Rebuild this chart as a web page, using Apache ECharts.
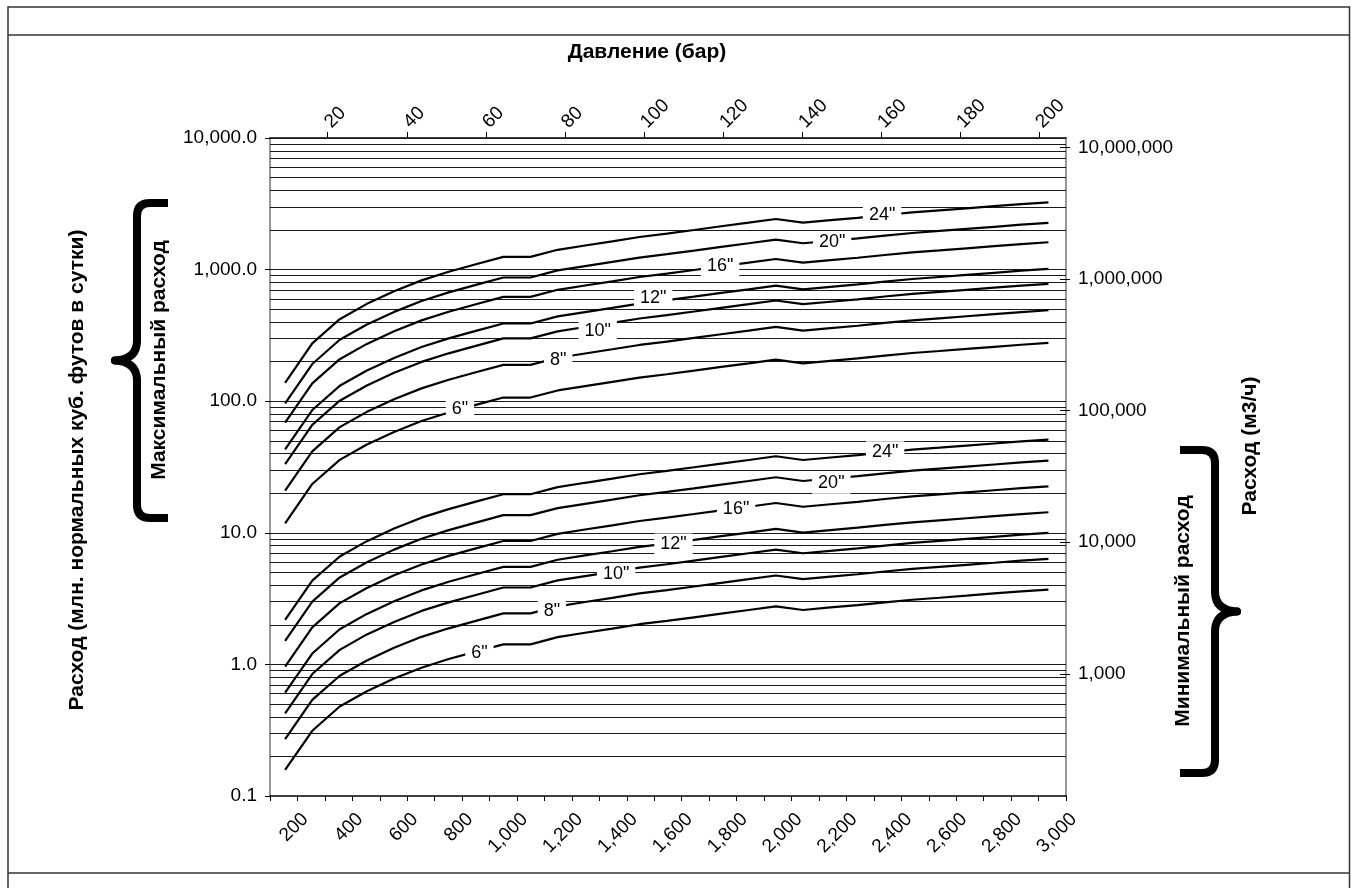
<!DOCTYPE html>
<html>
<head>
<meta charset="utf-8">
<script src="https://cdn.jsdelivr.net/npm/echarts@6/dist/echarts.min.js"></script>
<style>
html,body{margin:0;padding:0;background:#fff;}
#chart{width:1351px;height:888px;}
</style>
</head>
<body>
<div id="chart"></div>
<script>
// ---- data ----
const pressurePsi = [155, 254, 354, 453, 552, 652, 751, 850, 950, 1049, 1148, 1248, 1347, 1446, 1546, 1645, 1744, 1844, 1943, 2042, 2142, 2241, 2340, 2440, 2539, 2638, 2738, 2837, 2936];

const sizeNames = ['24"', '20"', '16"', '12"', '10"', '8"', '6"'];

// maximum flow, million std cubic feet per day
const max24 = [138, 275, 420, 549, 684, 828, 962, 1097, 1249, 1249, 1414, 1524, 1640, 1769, 1877, 2000, 2134, 2272, 2424, 2272, 2373, 2475, 2600, 2721, 2818, 2923, 3032, 3145, 3246];
const max20 = [96.4, 191.7, 292.9, 382.8, 477.2, 577.4, 671.0, 765.1, 871.0, 871.0, 986.2, 1063, 1144, 1234, 1309, 1395, 1488, 1585, 1691, 1585, 1655, 1727, 1813, 1898, 1966, 2039, 2115, 2194, 2264];
const max16 = [68.7, 136.5, 208.6, 272.6, 339.8, 411.2, 477.9, 544.9, 620.3, 620.3, 702.3, 757.2, 814.9, 878.7, 932.3, 993.4, 1060, 1129, 1204, 1129, 1179, 1230, 1291, 1352, 1400, 1452, 1506, 1562, 1613];
const max12 = [43.1, 85.7, 130.9, 171.2, 213.3, 258.2, 300.0, 342.1, 389.4, 389.4, 440.9, 475.4, 511.6, 551.7, 585.3, 623.7, 665.5, 708.6, 756.0, 708.6, 740.0, 771.9, 810.7, 848.6, 878.8, 911.6, 945.6, 981.0, 1012];
const max10 = [33.2, 66.0, 100.9, 131.8, 164.3, 198.9, 231.1, 263.5, 300.0, 300.0, 339.6, 366.2, 394.1, 425.0, 450.9, 480.4, 512.6, 545.8, 582.3, 545.8, 570.0, 594.6, 624.5, 653.7, 677.0, 702.2, 728.4, 755.6, 779.9];
const max8 = [20.9, 41.6, 63.5, 83.0, 103.5, 125.2, 145.5, 165.9, 188.8, 188.8, 213.8, 230.5, 248.1, 267.5, 283.8, 302.4, 322.7, 343.6, 366.6, 343.6, 358.9, 374.3, 393.1, 411.5, 426.2, 442.0, 458.5, 475.7, 490.9];
const max6 = [11.8, 23.5, 35.8, 46.9, 58.4, 70.7, 82.1, 93.7, 106.6, 106.6, 120.7, 130.2, 140.1, 151.0, 160.2, 170.7, 182.2, 194.0, 207.0, 194.0, 202.6, 211.3, 222.0, 232.3, 240.6, 249.6, 258.9, 268.6, 277.2];

// minimum flow
const min24 = [2.18, 4.33, 6.61, 8.64, 10.77, 13.03, 15.14, 17.26, 19.65, 19.65, 22.25, 23.99, 25.82, 27.84, 29.54, 31.47, 33.58, 35.76, 38.15, 35.76, 37.34, 38.95, 40.91, 42.83, 44.35, 46.00, 47.72, 49.50, 51.09];
const min20 = [1.51, 3.00, 4.58, 5.98, 7.45, 9.02, 10.48, 11.95, 13.61, 13.61, 15.41, 16.61, 17.88, 19.28, 20.45, 21.79, 23.25, 24.76, 26.42, 24.76, 25.86, 26.97, 28.33, 29.65, 30.71, 31.85, 33.04, 34.28, 35.38];
const min16 = [0.960, 1.91, 2.92, 3.81, 4.75, 5.75, 6.68, 7.62, 8.67, 8.67, 9.82, 10.59, 11.40, 12.29, 13.04, 13.89, 14.82, 15.78, 16.84, 15.78, 16.48, 17.19, 18.06, 18.90, 19.57, 20.30, 21.06, 21.85, 22.55];
const min12 = [0.610, 1.21, 1.85, 2.42, 3.02, 3.65, 4.25, 4.84, 5.51, 5.51, 6.24, 6.73, 7.24, 7.81, 8.28, 8.83, 9.42, 10.03, 10.70, 10.03, 10.47, 10.93, 11.47, 12.01, 12.44, 12.90, 13.38, 13.88, 14.33];
const min10 = [0.425, 0.845, 1.29, 1.69, 2.10, 2.55, 2.96, 3.37, 3.84, 3.84, 4.35, 4.69, 5.04, 5.44, 5.77, 6.15, 6.56, 6.99, 7.45, 6.99, 7.30, 7.61, 7.99, 8.37, 8.67, 8.99, 9.32, 9.67, 9.98];
const min8 = [0.270, 0.537, 0.820, 1.07, 1.34, 1.62, 1.88, 2.14, 2.44, 2.44, 2.76, 2.98, 3.20, 3.46, 3.67, 3.91, 4.17, 4.44, 4.74, 4.44, 4.64, 4.84, 5.08, 5.32, 5.51, 5.71, 5.92, 6.15, 6.34];
const min6 = [0.158, 0.313, 0.479, 0.626, 0.780, 0.944, 1.10, 1.25, 1.42, 1.42, 1.61, 1.74, 1.87, 2.02, 2.14, 2.28, 2.43, 2.59, 2.76, 2.59, 2.71, 2.82, 2.96, 3.10, 3.21, 3.33, 3.46, 3.59, 3.70];

// where the size labels sit on the curves (pressure psi, flow)
const maxLabelX = [2330, 2148, 1740, 1496, 1294, 1150, 792];
const maxLabelY = [2599, 1629, 1065, 603, 343, 205.6, 86.5];
const minLabelX = [2341, 2145, 1798, 1570, 1361, 1127, 863];
const minLabelY = [41.3, 23.8, 15.09, 8.22, 4.86, 2.56, 1.214];

// tick labels
const barTicks = [20, 40, 60, 80, 100, 120, 140, 160, 180, 200];
const m3hTicks = [1000, 10000, 100000, 1000000, 10000000];

// ---- chart ----
const FONT = "'Liberation Sans', Arial, Helvetica, sans-serif";
function withCommas(s) {
  const parts = s.split('.');
  return parts[0].replace(/\B(?=(\d{3})+(?!\d))/g, ',') + (parts.length > 1 ? '.' + parts[1] : '');
}
const gridValues = [];
for (let e = -1; e <= 3; e++) {
  for (let m = 1; m <= 9; m++) {
    const v = Number((m * Math.pow(10, e)).toPrecision(6));
    if (v > 0.1) gridValues.push(v);
  }
}
gridValues.push(10000);

const maxSeries = [max24, max20, max16, max12, max10, max8, max6];
const minSeries = [min24, min20, min16, min12, min10, min8, min6];

function curve(name, values, lx, ly, text) {
  return {
    type: 'line', name: name, xAxisIndex: 0, yAxisIndex: 0,
    data: pressurePsi.map((p, i) => [p, values[i]]),
    symbol: 'none', z: 3, silent: true,
    lineStyle: { color: '#000', width: 2.2 },
    markPoint: {
      z: 10, silent: true, symbol: 'rect', symbolSize: 1,
      itemStyle: { color: 'rgba(255,255,255,0)', borderWidth: 0 },
      label: {
        show: true, position: 'inside', formatter: text,
        color: '#000', fontFamily: FONT, fontSize: 18,
        backgroundColor: '#fff', padding: [2, 6, 1, 6]
      },
      data: [{ coord: [lx, ly], value: 0 }]
    }
  };
}

const series = [{
  type: 'line', name: 'grid', data: [], z: 1, silent: true,
  markLine: {
    z: 1, silent: true, symbol: ['none', 'none'], animation: false,
    label: { show: false },
    lineStyle: { color: '#1a1a1a', width: 1, type: 'solid' },
    emphasis: { disabled: true },
    data: gridValues.map(v => ({ yAxis: v }))
  }
}];
sizeNames.forEach((s, k) => {
  series.push(curve('max ' + s, maxSeries[k], maxLabelX[k], maxLabelY[k], s));
  series.push(curve('min ' + s, minSeries[k], minLabelX[k], minLabelY[k], s));
});

// curly braces built from straight and curved strokes
function brace(sx, tipX, yTop, yBot, endX) {
  const dir = endX > sx ? 1 : -1;
  const r = 13;
  const mid = (yTop + yBot) / 2;
  const st = { stroke: '#000', lineWidth: 8, fill: 'none', lineCap: 'round' };
  const stb = { stroke: '#000', lineWidth: 8, fill: 'none', lineCap: 'butt' };
  return {
    type: 'group', silent: true, children: [
      { type: 'line', shape: { x1: endX, y1: yTop, x2: sx + dir * r, y2: yTop }, style: stb },
      { type: 'bezierCurve', shape: { x1: sx + dir * r, y1: yTop, cpx1: sx, cpy1: yTop, x2: sx, y2: yTop + r }, style: st },
      { type: 'line', shape: { x1: sx, y1: yTop + r, x2: sx, y2: mid - 20 }, style: st },
      { type: 'bezierCurve', shape: { x1: sx, y1: mid - 20, cpx1: sx, cpy1: mid - 1, x2: tipX, y2: mid }, style: st },
      { type: 'bezierCurve', shape: { x1: tipX, y1: mid, cpx1: sx, cpy1: mid + 1, x2: sx, y2: mid + 20 }, style: st },
      { type: 'line', shape: { x1: sx, y1: mid + 20, x2: sx, y2: yBot - r }, style: st },
      { type: 'bezierCurve', shape: { x1: sx, y1: yBot - r, cpx1: sx, cpy1: yBot, x2: sx + dir * r, y2: yBot }, style: st },
      { type: 'line', shape: { x1: sx + dir * r, y1: yBot, x2: endX, y2: yBot }, style: stb }
    ]
  };
}

const chart = echarts.init(document.getElementById('chart'), null, { renderer: 'canvas' });
const titleStyle = { fill: '#000', font: 'bold 21px ' + FONT, textAlign: 'center', textVerticalAlign: 'middle' };
const tickFont = 19;

chart.setOption({
  animation: false,
  backgroundColor: '#fff',
  grid: { left: 270, right: 285, top: 138, bottom: 92 },
  xAxis: [{
    type: 'value', position: 'bottom', min: 100, max: 3000, interval: 100,
    axisLine: { show: true, lineStyle: { color: '#000', width: 1.5 } },
    axisTick: { show: true, length: 5, lineStyle: { color: '#000', width: 1 } },
    axisLabel: {
      rotate: 45, margin: 28, padding: [0, -11, 0, 0], color: '#000', fontFamily: FONT, fontSize: tickFont,
      formatter: v => (v % 200 === 0 ? withCommas(String(v)) : '')
    },
    splitLine: { show: false }
  }, {
    type: 'value', position: 'top', min: 5.4, max: 206.8,
    axisLine: { show: true, lineStyle: { color: '#000', width: 1.5 } },
    axisTick: { show: true, length: 6, customValues: barTicks, lineStyle: { color: '#000', width: 1 } },
    axisLabel: { rotate: -45, margin: 13, color: '#000', fontFamily: FONT, fontSize: tickFont, customValues: barTicks },
    splitLine: { show: false }
  }],
  yAxis: [{
    type: 'log', logBase: 10, position: 'left', min: 0.1, max: 10000,
    axisLine: { show: true, lineStyle: { color: '#777', width: 1.5 } },
    axisTick: { show: true, length: 5, lineStyle: { color: '#000', width: 1 } },
    axisLabel: { margin: 13, color: '#000', fontFamily: FONT, fontSize: tickFont, formatter: v => withCommas(Number(v).toFixed(1)) },
    splitLine: { show: false }, minorTick: { show: false }
  }, {
    type: 'log', logBase: 10, position: 'right', min: 118, max: 11800000,
    axisLine: { show: true, lineStyle: { color: '#777', width: 1.5 } },
    axisTick: { show: true, length: 4, customValues: m3hTicks, lineStyle: { color: '#000', width: 1 } },
    axisLabel: { margin: 12, color: '#000', fontFamily: FONT, fontSize: tickFont, customValues: m3hTicks,
      formatter: v => withCommas(String(Math.round(v))) },
    splitLine: { show: false }
  }, {
    // inner half of the right-axis ticks (they cross the axis line)
    type: 'log', logBase: 10, position: 'right', min: 118, max: 11800000,
    axisLine: { show: false },
    axisTick: { show: true, inside: true, length: 6, customValues: m3hTicks, lineStyle: { color: '#000', width: 1 } },
    axisLabel: { show: false },
    splitLine: { show: false }
  }],
  series: series,
  graphic: [
    { type: 'rect', silent: true, z: 0, shape: { x: 8, y: 7, width: 1341.5, height: 900 },
      style: { fill: 'none', stroke: '#333', lineWidth: 1.5 } },
    { type: 'line', silent: true, shape: { x1: 8, y1: 35, x2: 1349.5, y2: 35 }, style: { stroke: '#333', lineWidth: 1.5 } },
    { type: 'line', silent: true, shape: { x1: 8, y1: 873, x2: 1349.5, y2: 873 }, style: { stroke: '#333', lineWidth: 1.5 } },
    { type: 'text', silent: true, x: 647, y: 52, style: Object.assign({ text: 'Давление (бар)' }, titleStyle) },
    { type: 'text', silent: true, x: 77, y: 470, rotation: Math.PI / 2,
      style: Object.assign({ text: 'Расход (млн. нормальных куб. футов в сутки)' }, titleStyle) },
    { type: 'text', silent: true, x: 159, y: 360, rotation: Math.PI / 2,
      style: Object.assign({ text: 'Максимальный расход' }, titleStyle) },
    { type: 'text', silent: true, x: 1183, y: 611, rotation: Math.PI / 2,
      style: Object.assign({ text: 'Минимальный расход' }, titleStyle) },
    { type: 'text', silent: true, x: 1250, y: 446, rotation: Math.PI / 2,
      style: Object.assign({ text: 'Расход (м3/ч)' }, titleStyle) },
    brace(137, 115, 203, 518, 168),
    brace(1215, 1237, 450, 773, 1180)
  ]
});
</script>
</body>
</html>
